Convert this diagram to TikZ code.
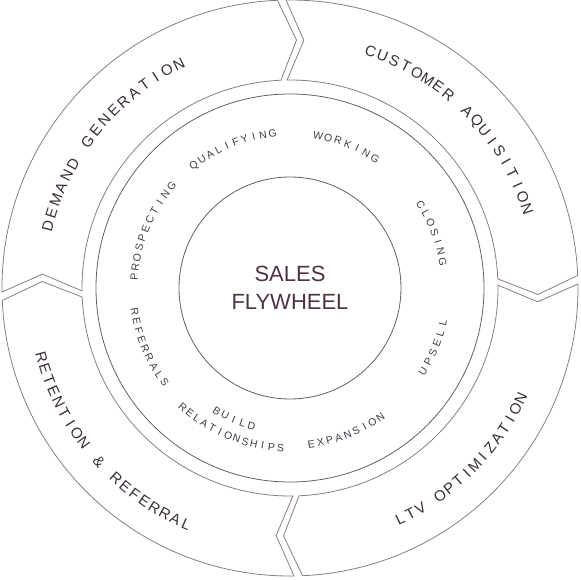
\documentclass[tikz,border=0pt]{standalone}
\usepackage{fontspec}
\setmainfont{Liberation Sans}

\definecolor{segline}{HTML}{8C7A8A}
\definecolor{ringline}{HTML}{5C606C}
\definecolor{stagetext}{HTML}{3A2C38}
\definecolor{phasetext}{HTML}{3A3D48}
\definecolor{hubtext}{HTML}{4D3347}

\newcommand{\stagefont}{\fontsize{15pt}{15pt}\selectfont}
\newcommand{\phasefont}{\fontsize{10.5pt}{10.5pt}\selectfont}

% letters spread along an arc: font, radius, start angle, end angle, letters, name
\newcommand{\ringtext}[6]{%
  \gdef\rtsum{0}\gdef\rtcount{0}%
  \foreach \ch in {#5}{%
    \setbox0\hbox{#1\ch}%
    \pgfmathsetmacro\rtw{\rtsum+\the\wd0}\xdef\rtsum{\rtw}%
    \pgfmathtruncatemacro\rtn{\rtcount+1}\xdef\rtcount{\rtn}%
  }%
  \pgfmathsetmacro\rtdir{sign((#4)-(#3))}%
  \pgfmathsetmacro\rtgap{(abs((#4)-(#3))*pi/180*#2-\rtsum)/(\rtcount-1)}%
  \xdef\rtgap{\rtgap}\xdef\rtdir{\rtdir}%
  \gdef\rtpos{0}%
  \foreach \ch [count=\i] in {#5}{%
    \setbox0\hbox{#1\ch}%
    \pgfmathsetmacro\rtang{(#3)+\rtdir*(\rtpos+\the\wd0/2)/#2*180/pi}%
    \pgfmathsetmacro\rtrot{\rtang+\rtdir*90}%
    \node[rotate=\rtrot, inner sep=0pt, font=#1] (#6-\i) at (\rtang:#2pt) {\ch};
    \pgfmathsetmacro\rtnew{\rtpos+\the\wd0+\rtgap}\xdef\rtpos{\rtnew}%
  }%
}

\begin{document}
\begin{tikzpicture}[segment/.style={draw=segline, line width=0.8pt},
  ring/.style={draw=ringline, line width=0.8pt},
  stagelabel/.style={text=stagetext},
  phaselabel/.style={text=phasetext}]
\useasboundingbox (-290pt,-292pt) rectangle (290pt,288pt);

% outer segments, each ends in a chevron pointing clockwise
\foreach \k in {0,...,3}{
  \pgfmathsetmacro\sa{180.8-90*\k}
  \pgfmathsetmacro\ea{92.5-90*\k}
  \pgfmathsetmacro\st{\sa-4}
  \pgfmathsetmacro\et{\ea-4}
  \draw[segment] (\sa:288pt) arc[start angle=\sa, end angle=\ea, radius=288pt]
    -- (\et:248pt) -- (\ea:208pt) arc[start angle=\ea, end angle=\sa, radius=208pt]
    -- (\st:248pt) -- cycle;
}

% inner ring and hub
\draw[ring] (0,0) circle[radius=194pt];
\node[circle, ring, minimum size=222pt, inner sep=0pt, text=hubtext, align=center,
  font=\fontsize{22pt}{28pt}\selectfont] (hub) at (0,0) {SALES\\FLYWHEEL};

% stage labels
\begin{scope}[stagelabel]
\ringtext{\stagefont}{250}{165.6}{116.4}{D,E,M,A,N,D,~,G,E,N,E,R,A,T,I,O,N}{demand}
\ringtext{\stagefont}{250}{71.2}{18.5}{C,U,S,T,O,M,E,R,~,A,Q,U,I,S,I,T,I,O,N}{acquire}
\ringtext{\stagefont}{256}{-64.5}{-25.6}{L,T,V,~,O,P,T,I,M,I,Z,A,T,I,O,N}{ltv}
\ringtext{\stagefont}{258}{195.6}{246.3}{R,E,T,E,N,T,I,O,N,~,\&,~,R,E,F,E,R,R,A,L}{retain}
\end{scope}

% phase labels
\begin{scope}[phaselabel]
\ringtext{\phasefont}{156}{176}{139.4}{P,R,O,S,P,E,C,T,I,N,G}{prospect}
\ringtext{\phasefont}{155.5}{128}{96.5}{Q,U,A,L,I,F,Y,I,N,G}{qualify}
\ringtext{\phasefont}{155}{79.5}{56.7}{W,O,R,K,I,N,G}{work}
\ringtext{\phasefont}{155}{32.5}{9.8}{C,L,O,S,I,N,G}{close}
\ringtext{\phasefont}{157}{-32}{-13}{U,P,S,E,L,L}{upsell}
\ringtext{\phasefont}{157.5}{-82.2}{-55}{E,X,P,A,N,S,I,O,N}{expand}
\ringtext{\phasefont}{160}{228}{266.6}{R,E,L,A,T,I,O,N,S,H,I,P,S}{relation}
\ringtext{\phasefont}{143}{239.2}{254.4}{B,U,I,L,D}{build}
\ringtext{\phasefont}{157}{188.6}{217}{R,E,F,E,R,R,A,L,S}{refer}
\end{scope}
\end{tikzpicture}
\end{document}
